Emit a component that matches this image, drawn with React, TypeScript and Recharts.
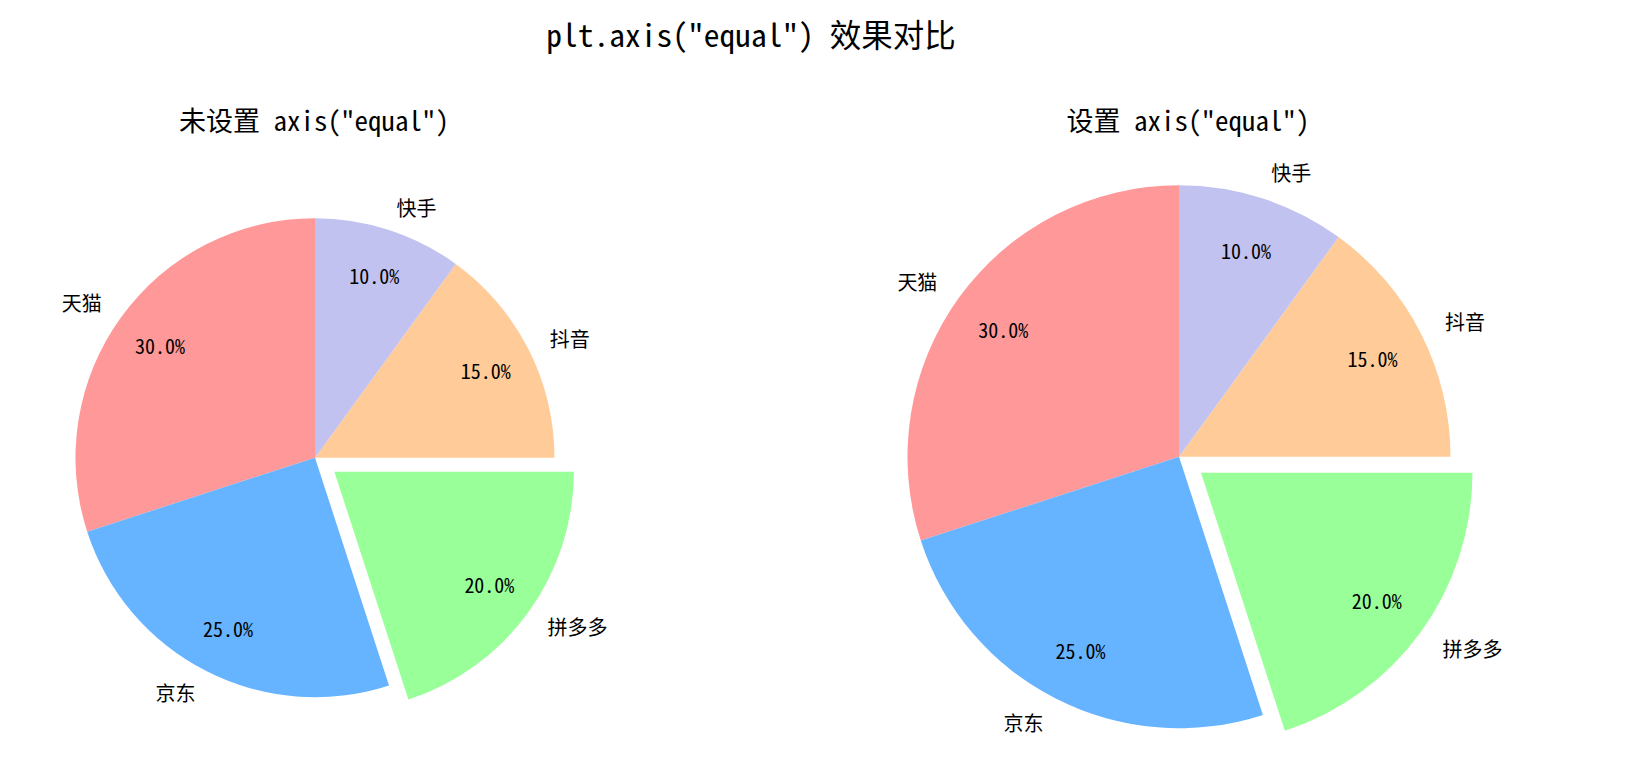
import React from 'react';
import { PieChart, Pie, Cell } from 'recharts';

// ---------- data ----------
const CATEGORIES = ['天猫', '京东', '拼多多', '抖音', '快手'];
const SHARES = [30, 25, 20, 15, 10];
const COLORS = ['#ff9999', '#66b3ff', '#99ff99', '#ffcc99', '#c2c2f0'];
const EXPLODED = '拼多多';
const SUPTITLE = 'plt.axis("equal") 效果对比';
const PANEL_TITLES = ['未设置 axis("equal")', '设置 axis("equal")'];

// ---------- style constants ----------
const EXPLODE = 0.1;
const LABEL_DIST = 1.1;
const PCT_DIST = 0.8;
const START_ANGLE = 90;
const RAD = Math.PI / 180;
const CJK_FONT = "'Noto Sans CJK SC', 'Noto Sans CJK JP', sans-serif";
const LATIN_FONT = "'Noto Sans Mono CJK SC', 'DejaVu Sans Mono', monospace";

const data = CATEGORIES.map((name, i) => ({ name, value: SHARES[i] }));

function isCJK(ch: string) {
  return ch.charCodeAt(0) > 0x2e80;
}

// SimHei-like metrics: CJK = 1em, other = 0.5em
function MixedText(props: { text: string; x: number; y: number; size: number; anchor: 'start' | 'middle' | 'end'; keyPrefix: string }) {
  const { text, x, y, size, anchor, keyPrefix } = props;
  const chars = Array.from(text);
  const total = chars.reduce((s, c) => s + (isCJK(c) ? size : size / 2), 0);
  let cur = anchor === 'start' ? x : anchor === 'end' ? x - total : x - total / 2;
  const runs: { t: string; cjk: boolean; x: number; w: number }[] = [];
  let run: { t: string; cjk: boolean; x: number; w: number } | null = null;
  for (const c of chars) {
    const w = isCJK(c) ? size : size / 2;
    if (c === ' ') {
      run = null;
      cur += w;
      continue;
    }
    const cjk = isCJK(c);
    if (!run || run.cjk !== cjk) {
      run = { t: '', cjk, x: cur, w: 0 };
      runs.push(run);
    }
    run.t += c;
    run.w += w;
    cur += w;
  }
  return (
    <g>
      {runs.map((r, i) => (
        <text
          key={`${keyPrefix}-${i}`}
          x={r.x}
          y={y}
          fontSize={size}
          fontFamily={r.cjk ? CJK_FONT : LATIN_FONT}
          fill="#000"
          dominantBaseline="central"
          textLength={r.w}
          lengthAdjust="spacingAndGlyphs"
        >
          {r.t}
        </text>
      ))}
    </g>
  );
}

function midAngleOf(name: string) {
  const total = SHARES.reduce((a, b) => a + b, 0);
  const idx = CATEGORIES.indexOf(name);
  let cum = 0;
  for (let i = 0; i < idx; i++) cum += SHARES[i];
  return START_ANGLE + (360 * (cum + SHARES[idx] / 2)) / total;
}

function makeLabel(onlyExploded: boolean, fontSize: number) {
  return (p: any) => {
    const isExp = p.name === EXPLODED;
    if (isExp !== onlyExploded) return null;
    const cx = Number(p.cx);
    const cy = Number(p.cy);
    const r = Number(p.outerRadius);
    const a = Number(p.midAngle) * RAD;
    const cos = Math.cos(a);
    const sin = Math.sin(a);
    const pct = `${(Number(p.percent) * 100).toFixed(1)}%`;
    return (
      <g key={`lbl-${p.index}-${onlyExploded}`}>
        <MixedText
          keyPrefix={`p${p.index}`}
          text={pct}
          x={cx + PCT_DIST * r * cos}
          y={cy - PCT_DIST * r * sin}
          size={fontSize}
          anchor="middle"
        />
        <MixedText
          keyPrefix={`n${p.index}`}
          text={p.name}
          x={cx + LABEL_DIST * r * cos}
          y={cy - LABEL_DIST * r * sin}
          size={fontSize}
          anchor={cos >= 0 ? 'start' : 'end'}
        />
      </g>
    );
  };
}

function Panel(props: { left: number; width: number; height: number; cx: number; cy: number; r: number }) {
  const { left, width, height, cx, cy, r } = props;
  const mid = midAngleOf(EXPLODED) * RAD;
  const ecx = cx + EXPLODE * r * Math.cos(mid);
  const ecy = cy - EXPLODE * r * Math.sin(mid);
  return (
    <div style={{ position: 'absolute', left, top: 0, width, height }}>
      <PieChart width={width} height={height} margin={{ top: 0, right: 0, bottom: 0, left: 0 }}>
        <Pie
          data={data}
          dataKey="value"
          nameKey="name"
          cx={cx}
          cy={cy}
          outerRadius={r}
          startAngle={START_ANGLE}
          endAngle={START_ANGLE + 360}
          stroke="none"
          isAnimationActive={false}
          labelLine={false}
          label={makeLabel(false, 20)}
        >
          {data.map((d, i) => (
            <Cell key={`a-${i}`} fill={d.name === EXPLODED ? 'none' : COLORS[i]} stroke="none" />
          ))}
        </Pie>
        <Pie
          data={data}
          dataKey="value"
          nameKey="name"
          cx={ecx}
          cy={ecy}
          outerRadius={r}
          startAngle={START_ANGLE}
          endAngle={START_ANGLE + 360}
          stroke="none"
          isAnimationActive={false}
          labelLine={false}
          label={makeLabel(true, 20)}
        >
          {data.map((d, i) => (
            <Cell key={`b-${i}`} fill={d.name === EXPLODED ? COLORS[i] : 'none'} stroke="none" />
          ))}
        </Pie>
      </PieChart>
    </div>
  );
}

export default function App() {
  return (
    <div style={{ position: 'absolute', left: 0, top: 0, width: 1643, height: 772, background: '#fff', overflow: 'hidden' }}>
      <Panel left={0} width={821} height={772} cx={315} cy={457.7} r={239.5} />
      <Panel left={821} width={822} height={772} cx={358} cy={456.7} r={271.5} />
      <svg
        width={1643}
        height={772}
        style={{ position: 'absolute', left: 0, top: 0, pointerEvents: 'none' }}
      >
        <MixedText keyPrefix="sup" text={SUPTITLE} x={751} y={32.5} size={31.5} anchor="middle" />
        <MixedText keyPrefix="t0" text={PANEL_TITLES[0]} x={314} y={119.5} size={27} anchor="middle" />
        <MixedText keyPrefix="t1" text={PANEL_TITLES[1]} x={1188} y={119.5} size={27} anchor="middle" />
      </svg>
    </div>
  );
}
